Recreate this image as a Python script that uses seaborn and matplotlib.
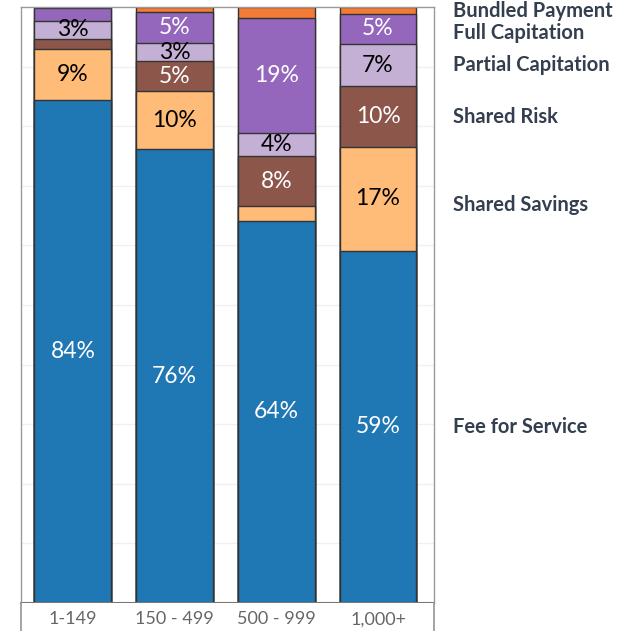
import numpy as np
import pandas as pd
import seaborn as sns
import matplotlib.pyplot as plt

groups = ["1-149", "150 - 499", "500 - 999", "1,000+"]
layers = ["Fee for Service", "Shared Savings", "Shared Risk",
          "Partial Capitation", "Full Capitation", "Bundled Payment"]

fee_for_service = [84.4, 76.1, 64.1, 59.1]
shared_savings = [8.6, 9.8, 2.5, 17.4]
shared_risk = [1.7, 5.0, 8.4, 10.2]
partial_capitation = [3.0, 3.1, 3.8, 7.05]
full_capitation = [2.2, 5.1, 19.3, 5.15]
bundled_payment = [0.1, 0.85, 1.85, 1.1]

# which segments get a % label
shown = {
    "Fee for Service": [True, True, True, True],
    "Shared Savings": [True, True, False, True],
    "Shared Risk": [False, True, True, True],
    "Partial Capitation": [True, True, True, True],
    "Full Capitation": [False, True, True, True],
    "Bundled Payment": [False, False, False, False],
}

colors = ["#1f77b4", "#ffbb78", "#8c564b", "#c5b0d5", "#9467bd", "#f47b35"]
text_colors = ["white", "black", "white", "black", "white", "black"]

df = pd.DataFrame([fee_for_service, shared_savings, shared_risk,
                   partial_capitation, full_capitation, bundled_payment],
                  index=layers, columns=groups)
cum = df.cumsum()

sns.set_theme(style="white")
plt.rcParams["font.family"] = ["Lato", "DejaVu Sans"]

fig = plt.figure(figsize=(6.34, 6.31), dpi=100)
ax = fig.add_axes([0.0331, 0.0444, 0.6514, 0.9445])

for y in range(10, 100, 10):
    ax.axhline(y, color="#f0f0f0", lw=1, zorder=0)

# stacked bars: draw cumulative totals from the top layer down
for i in range(len(layers) - 1, -1, -1):
    sns.barplot(x=groups, y=cum.iloc[i].values, color=colors[i], saturation=1,
                width=0.755, edgecolor="#333333", linewidth=1, ax=ax, zorder=2)

for i, layer in enumerate(layers):
    for j, g in enumerate(groups):
        if not shown[layer][j]:
            continue
        h = df.loc[layer, g]
        mid = cum.loc[layer, g] - h / 2
        ax.text(j, mid, f"{round(h):.0f}%", ha="center", va="center",
                fontsize=16.5, color=text_colors[i], zorder=5)

ax.set_xlim(-0.51, 3.55)
ax.set_ylim(0, 100)
ax.set_yticks([])
ax.set_xticks([])
ax.set_xlabel("")
ax.set_ylabel("")
for s in ax.spines.values():
    s.set_color("#999999")
    s.set_linewidth(1)
ax.spines["bottom"].set_color("#777777")
ax.spines["bottom"].set_linewidth(1.5)

# x label band below the plot
band = fig.add_axes([0.0331, 0.0, 0.6514, 0.0444], sharex=ax)
band.set_ylim(0, 1)
band.set_yticks([])
band.tick_params(axis="x", length=0)
for j, g in enumerate(groups):
    band.text(j, 0.42, g, ha="center", va="center", fontsize=13, color="#666666")
for k in ["top", "bottom"]:
    band.spines[k].set_visible(False)
for k in ["left", "right"]:
    band.spines[k].set_color("#999999")

# series names at the right, next to the last bar's segments
last = groups[-1]
label_y = [float(cum.loc[l, last] - df.loc[l, last] / 2) for l in layers]
label_y[1] -= 1.0
label_y[-1] = 99.4
min_gap = 3.7
for k in range(len(label_y) - 2, -1, -1):
    if label_y[k + 1] - label_y[k] < min_gap:
        label_y[k] = label_y[k + 1] - min_gap

for l, y in zip(layers, label_y):
    ax.text(3.74, y, l, ha="left", va="center", fontsize=14.5,
            fontweight="bold", color="#333f4f", clip_on=False)

fig.savefig("out.png", dpi=100)
